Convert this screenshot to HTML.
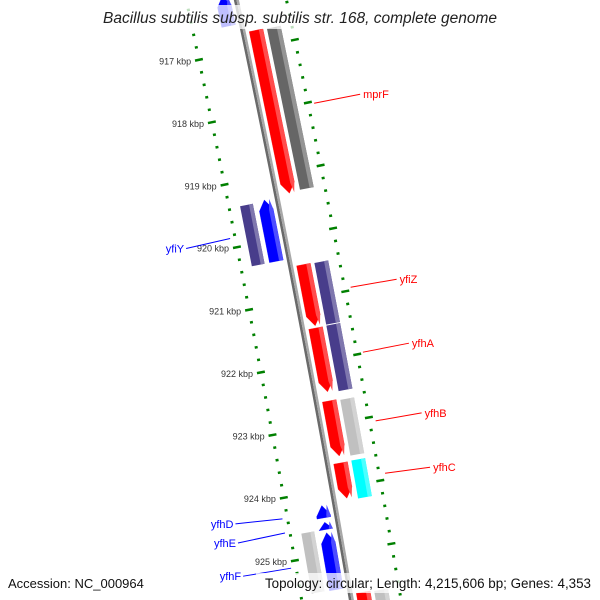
<!DOCTYPE html>
<html><head><meta charset="utf-8"><style>
html,body{margin:0;padding:0;background:#fff;width:600px;height:600px;overflow:hidden}
svg{display:block;overflow:hidden}
text{font-family:"Liberation Sans","DejaVu Sans",sans-serif}
</style></head><body>
<svg id="map" width="600" height="600" viewBox="0 0 600 600" xmlns="http://www.w3.org/2000/svg">
<g id="ticks"></g>
<g id="backbone"></g>
<g id="features"></g>
<g id="labels"></g>
<rect x="98" y="5" width="404" height="24" fill="#fff" fill-opacity="0.75"/>
<text x="300" y="23" text-anchor="middle" font-size="15.5" font-style="italic" fill="#222">Bacillus subtilis subsp. subtilis str. 168, complete genome</text>
<rect x="4" y="573" width="148" height="20" fill="#fff" fill-opacity="0.75"/>
<rect x="256" y="573" width="340" height="20" fill="#fff" fill-opacity="0.75"/>
<text x="8" y="588" font-size="13" fill="#111">Accession: NC_000964</text>
<text x="591" y="588" text-anchor="end" font-size="13.4" fill="#111">Topology: circular; Length: 4,215,606 bp; Genes: 4,353</text>
</svg>
<script>
// ---- data ----
const featNames  = ["orf-top","mprF","mprF-cog","yfiY","yfiY-cog","yfiZ","yfiZ-cog","yfhA-cog","yfhA","yfhB","yfhB-cog","yfhC","yfhC-cog","yfhD","yfhE","yfhF","yfhF-cog","next-red","next-cog"];
const featStart  = [916100,916730,916740,919357,919380,920466,920475,921470,921476,922634,922650,923620,923613,924224,924490,924657,924602,925670,925680];
const featEnd    = [916577,919330,919310,920335,920338,921440,921455,922510,922490,923510,923535,924180,924215,924420,924605,925560,925554,926600,926600];
const featStrand = [-1,1,0,-1,0,1,0,0,1,1,0,1,0,-1,-1,-1,0,1,0];
const featTrack  = ["in1","out1","out2","in1","in2","out1","out2","out2","out1","out1","out2","out1","out2","in1","in1","in1","in2","out1","out2"];
const featColor  = ["#0000ff","#ff0000","#666666","#0000ff","#483d8b","#ff0000","#483d8b","#483d8b","#ff0000","#ff0000","#c0c0c0","#ff0000","#00ffff","#0000ff","#0000ff","#0000ff","#c0c0c0","#ff0000","#c0c0c0"];
const labelText  = ["mprF","yfiY","yfiZ","yfhA","yfhB","yfhC","yfhD","yfhE","yfhF"];
const labelFeat  = [1,3,5,8,9,11,13,14,15];
const tickStart = 915000, tickEnd = 927000, tickStep = 200, majorStep = 1000;

// ---- axis (polar) ----
const cx=-14320, cy=3100.9, R0=14883, a0=-0.20647, k=4.296e-6, b0=917000;
const tracks={out1:[6,20],out2:[24,38],in1:[-20,-6],in2:[-38,-25]};
function P(bp,v){const a=a0+(bp-b0)*k;const r=R0+v;return [cx+r*Math.cos(a),cy+r*Math.sin(a)];}
const NS="http://www.w3.org/2000/svg";
function mk(tag,attrs,parent){const e=document.createElementNS(NS,tag);for(const a in attrs)e.setAttribute(a,attrs[a]);parent.appendChild(e);return e;}
function pts(arr){return arr.map(p=>p[0].toFixed(2)+","+p[1].toFixed(2)).join(" ");}
function lighten(hex,f){const n=parseInt(hex.slice(1),16);let r=n>>16,g=(n>>8)&255,b=n&255;r=Math.round(r+(255-r)*f);g=Math.round(g+(255-g)*f);b=Math.round(b+(255-b)*f);return "rgb("+r+","+g+","+b+")";}

// ticks
const tg=document.getElementById("ticks");
for(let bp=tickStart;bp<=tickEnd;bp+=tickStep){
  const major=bp%majorStep===0;
  [-49,49].forEach(c=>{
    const h=major?4:1.5;
    const p1=P(bp,c-h),p2=P(bp,c+h);
    const t=mk("line",{x1:p1[0],y1:p1[1],x2:p2[0],y2:p2[1],stroke:"#008000","stroke-width":2.5},tg);
    
    
  });
  if(major){
    const p=P(bp,-57);
    if(p[1]>=8 && p[1]<=596){
      const tx=mk("text",{x:p[0],y:p[1]+3,"text-anchor":"end","font-size":"9",fill:"#333"},tg);
      tx.textContent=(bp/1000)+" kbp";
      
      
    }
  }
}

// backbone
const bb=document.getElementById("backbone");
const bbPts1=[],bbPts2=[];
for(let bp=tickStart;bp<=tickEnd;bp+=250){bbPts1.push(P(bp,-1.2));bbPts2.push(P(bp,1.3));}
let l1=mk("polyline",{points:pts(bbPts1),fill:"none",stroke:"#6a6a6a","stroke-width":2.6},bb);


let l2=mk("polyline",{points:pts(bbPts2),fill:"none",stroke:"#a8a8a8","stroke-width":2.4},bb);



// features
const fg=document.getElementById("features");
const head=160;
function shape(s,e,strand,lo,hi){
  const mid=(lo+hi)/2;
  if(strand===1&&e-s>head){return [P(s,lo),P(e-head,lo),P(e,mid),P(e-head,hi),P(s,hi)];}
  if(strand===-1&&e-s>head){return [P(s,mid),P(s+head,lo),P(e,lo),P(e,hi),P(s+head,hi)];}
  if(strand===1){return [P(s,lo),P(e,mid),P(s,hi)];}
  if(strand===-1){return [P(s,mid),P(e,lo),P(e,hi)];}
  return [P(s,lo),P(e,lo),P(e,hi),P(s,hi)];
}
for(let i=0;i<featNames.length;i++){
  const [lo,hi]=tracks[featTrack[i]];
  const g=mk("g",{},fg);
  
  
  const base=mk("polygon",{points:pts(shape(featStart[i],featEnd[i],featStrand[i],lo,hi)),fill:featColor[i]},g);
  
  
  const w=hi-lo;
  const hl=mk("polygon",{points:pts(shape(featStart[i],featEnd[i],featStrand[i],hi-w*0.3,hi)),fill:lighten(featColor[i],0.3)},g);
  
  
  if(featStrand[i]!==0){
    base.setAttribute("stroke",featColor[i]);base.setAttribute("stroke-width","0.3");
  }
}

// labels
const lg=document.getElementById("labels");
const labelDelta=[[46,-9],[-44,10],[46,-8],[46,-9],[46,-8],[45,-6],[-47,5],[-47,10],[-48,8]];
for(let j=0;j<labelText.length;j++){
  const i=labelFeat[j];
  const out=featTrack[i].startsWith("out");
  const mid=(featStart[i]+featEnd[i])/2;
  const p=P(mid,out?55:-54);
  const d=labelDelta[j];
  const q=[p[0]+d[0],p[1]+d[1]];
  const col=out?"#ff0000":"#0000ff";
  const ln=mk("line",{x1:p[0],y1:p[1],x2:q[0],y2:q[1],stroke:col,"stroke-width":1},lg);
  
  
  const t=mk("text",{x:out?q[0]+3:q[0]-2,y:q[1]+4,"text-anchor":out?"start":"end","font-size":"11",fill:col},lg);
  t.textContent=labelText[j];
  
  
}
</script>
</body></html>
